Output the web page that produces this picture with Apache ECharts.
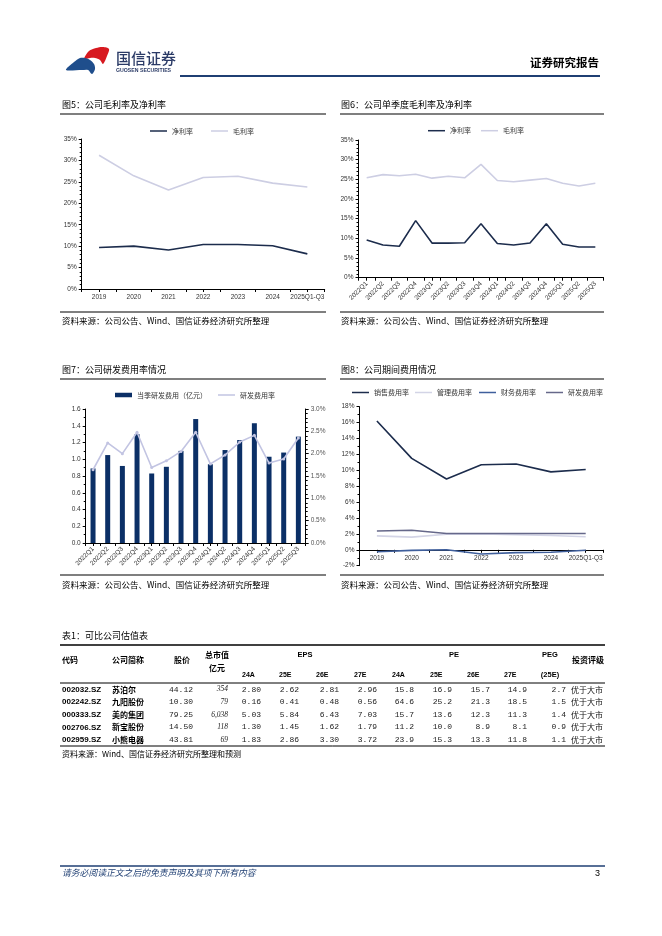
<!DOCTYPE html>
<html><head><meta charset="utf-8">
<script src="https://cdn.jsdelivr.net/npm/echarts@6/dist/echarts.min.js"></script>
<style>html,body{margin:0;padding:0;background:#fff}#c{width:662px;height:936px}</style>
</head><body><div id="c"></div>
<script>
// ---------- data ----------
const years = ['2019','2020','2021','2022','2023','2024','2025Q1-Q3'];
const netMarginYear = [9.7, 10.0, 9.1, 10.4, 10.4, 10.1, 8.2];
const grossMarginYear = [31.2, 26.4, 23.1, 26.0, 26.3, 24.7, 23.8];

const quarters = ['2022Q1','2022Q2','2022Q3','2022Q4','2023Q1','2023Q2','2023Q3','2023Q4','2024Q1','2024Q2','2024Q3','2024Q4','2025Q1','2025Q2','2025Q3'];
const netMarginQ = [9.6, 8.3, 8.0, 14.5, 8.8, 8.8, 8.9, 13.7, 8.7, 8.3, 8.8, 13.7, 8.5, 7.8, 7.8];
const grossMarginQ = [25.4, 26.2, 25.9, 26.3, 25.3, 25.8, 25.4, 28.8, 24.7, 24.4, 24.8, 25.2, 24.0, 23.3, 24.0];

const rdExpenseQ = [0.89, 1.05, 0.92, 1.30, 0.83, 0.91, 1.10, 1.48, 0.94, 1.11, 1.23, 1.43, 1.03, 1.08, 1.27];
const rdRateQ = [1.64, 2.24, 2.00, 2.48, 1.69, 1.84, 2.05, 2.48, 1.77, 1.97, 2.26, 2.41, 1.79, 1.88, 2.35];

const sellRate = [16.2, 11.5, 8.9, 10.7, 10.8, 9.8, 10.1];
const mgmtRate = [1.75, 1.6, 1.95, 2.0, 1.9, 1.8, 1.65];
const finRate = [-0.24, -0.07, 0.0, -0.53, -0.36, -0.3, -0.05];
const rdRateYear = [2.36, 2.45, 2.05, 2.05, 2.05, 2.05, 2.05];

const tblCodes = ['002032.SZ','002242.SZ','000333.SZ','002706.SZ','002959.SZ'];
const tblNames = ['苏泊尔','九阳股份','美的集团','新宝股份','小熊电器'];
const tblPrice = ['44.12','10.30','79.25','14.50','43.81'];
const tblMcap = ['354','79','6,038','118','69'];
const eps24A = [2.80, 0.16, 5.03, 1.30, 1.83];
const eps25E = [2.62, 0.41, 5.84, 1.45, 2.86];
const eps26E = [2.81, 0.48, 6.43, 1.62, 3.30];
const eps27E = [2.96, 0.56, 7.03, 1.79, 3.72];
const pe24A = [15.8, 64.6, 15.7, 11.2, 23.9];
const pe25E = [16.9, 25.2, 13.6, 10.0, 15.3];
const pe26E = [15.7, 21.3, 12.3, 8.9, 13.3];
const pe27E = [14.9, 18.5, 11.3, 8.1, 11.8];
const peg25E = [2.7, 1.5, 1.4, 0.9, 1.1];
const rating = ['优于大市','优于大市','优于大市','优于大市','优于大市'];
const epsHeads = ['24A','25E','26E','27E'];
const peHeads = ['24A','25E','26E','27E'];

// ---------- styles ----------
const CJK = "'Noto Sans CJK SC'";
const LAT = "'Liberation Sans'";
const NAVY = '#1c2c4c', LAV = '#cdcee3', BAR = '#0b2f66', RDLINE = '#c2c4e2';
const MGMT = '#d3d4e6', FIN = '#3f5f9c', RD8 = '#66688a';

function T(x, y, text, size, o) {
  o = o || {};
  const font = (o.italic ? 'italic ' : '') + (o.weight || 'normal') + ' ' + size + 'px ' + (o.family || CJK);
  return {type:'text', x:x, y:y, silent:true, z:10,
    style:{text:text, fill:o.color || '#000', font:font, align:o.align || 'left', verticalAlign:'middle',
      textAlign:o.align || 'left', textVerticalAlign:'middle'}};
}
function L(x1, y1, x2, y2, w, c) {
  return {type:'line', silent:true, z:10, shape:{x1:x1, y1:y1, x2:x2, y2:y2}, style:{stroke:c || '#000', lineWidth:w || 1}};
}

const axisLabelStyle = {fontSize:6.5, color:'#333', fontFamily:LAT};
function catAxis(grid, data, rotate, extra) {
  return Object.assign({type:'category', gridIndex:grid, data:data, boundaryGap:true, position:'bottom',
    axisLine:{show:true, onZero:false, lineStyle:{color:'#000', width:1}},
    axisTick:{show:true, length:3, lineStyle:{color:'#000'}},
    axisLabel:Object.assign({margin:5, rotate:rotate || 0, interval:0}, axisLabelStyle),
    splitLine:{show:false}}, extra || {});
}
function tickAxis(grid, data, extra) {
  return Object.assign({type:'category', gridIndex:grid, data:data, boundaryGap:true, position:'bottom',
    axisLine:{show:false, onZero:false}, axisLabel:{show:false},
    axisTick:{show:true, alignWithLabel:true, length:3, lineStyle:{color:'#000'}}, splitLine:{show:false}}, extra || {});
}
function valAxis(grid, min, max, interval, fmt, minorSplit, extra) {
  return Object.assign({type:'value', gridIndex:grid, min:min, max:max, interval:interval,
    axisLine:{show:true, lineStyle:{color:'#000', width:1}},
    axisTick:{show:true, length:3, lineStyle:{color:'#000'}},
    minorTick:{show:true, splitNumber:minorSplit, length:2, lineStyle:{color:'#000'}},
    axisLabel:Object.assign({margin:5, formatter:fmt}, axisLabelStyle),
    splitLine:{show:false}, minorSplitLine:{show:false}}, extra || {});
}
const pct0 = v => Math.round(v) + '%';

function lineSeries(name, xi, yi, data, color, extra) {
  return Object.assign({type:'line', name:name, xAxisIndex:xi, yAxisIndex:yi, data:data, symbol:'none',
    lineStyle:{color:color, width:1.6}, itemStyle:{color:color}, silent:true, animation:false, z:3}, extra || {});
}
function legendItem(name, left, top, color, h) {
  return {show:true, left:left, top:top, padding:0, itemGap:0, icon:'rect', itemWidth:17, itemHeight:h || 1.5,
    data:[{name:name, itemStyle:{color:color}}], selectedMode:false,
    textStyle:{fontSize:7, color:'#333', fontFamily:CJK, padding:[0,0,0,0]}};
}

// ---------- graphics (header, titles, table, footer) ----------
const G = [];
// logo
G.push({type:'polygon', silent:true, shape:{smooth:0.3, points:[[84,59],[89,51],[96,48],[103,47],[109,49],[107,56],[103,64],[100,60],[95,58],[90,58]]}, style:{fill:'#d71920'}});
G.push({type:'polygon', silent:true, shape:{smooth:0.3, points:[[66,70],[74,62],[80,58],[85,58],[90,60],[94,64],[95,69],[92,74],[88,70],[82,70]]}, style:{fill:'#1f4e8c'}});
G.push(T(116, 58, '国信证券', 15, {color:'#2a3a66', weight:'500'}));
G.push(T(116, 71, 'GUOSEN SECURITIES', 5.2, {family:LAT, weight:'bold', color:'#2a3a66'}));
G.push(T(599, 63, '证券研究报告', 11.5, {weight:'bold', align:'right'}));
G.push(L(180, 76, 600, 76, 2, '#1f3f73'));

const src = '资料来源：公司公告、Wind、国信证券经济研究所整理';
// panel titles & rules
[[62, 105, '图5：公司毛利率及净利率', 60, 326, 114, 312, 321],
 [341, 105, '图6：公司单季度毛利率及净利率', 340, 604, 114, 312, 321],
 [62, 370, '图7：公司研发费用率情况', 60, 326, 379, 575, 585],
 [341, 370, '图8：公司期间费用情况', 340, 604, 379, 575, 585]].forEach(p => {
  G.push(T(p[0], p[1], p[2], 9));
  G.push(L(p[3], p[5], p[4], p[5], 1.2));
  G.push(L(p[3], p[6], p[4], p[6], 1.2));
  G.push(T(p[0], p[7], src, 8.5));
});

// table
G.push(T(62, 636, '表1：可比公司估值表', 9));
G.push(L(60, 645, 605, 645, 1.5));
G.push(L(60, 683, 605, 683, 1));
G.push(L(60, 746, 605, 746, 1));
G.push(T(62, 754, '资料来源：Wind、国信证券经济研究所整理和预测', 8));
const HB = {weight:'bold'};
G.push(T(62, 660, '代码', 8, HB));
G.push(T(112, 660, '公司简称', 8, HB));
G.push(T(182, 660, '股价', 8, {weight:'bold', align:'center'}));
G.push(T(217, 654.5, '总市值', 8, {weight:'bold', align:'center'}));
G.push(T(217, 668, '亿元', 8, {weight:'bold', align:'center'}));
G.push(T(305, 654.5, 'EPS', 7.5, {weight:'bold', align:'center', family:LAT}));
G.push(T(454, 654.5, 'PE', 7.5, {weight:'bold', align:'center', family:LAT}));
G.push(T(550, 654.5, 'PEG', 7.5, {weight:'bold', align:'center', family:LAT}));
G.push(T(550, 675, '(25E)', 7.5, {weight:'bold', align:'center', family:LAT}));
G.push(T(588, 660, '投资评级', 8, {weight:'bold', align:'center'}));
const epsHeadX = [242, 279, 316, 354], peHeadX = [392, 430, 467, 504];
epsHeads.forEach((h, i) => G.push(T(epsHeadX[i], 675, h, 7, {weight:'bold', family:LAT})));
peHeads.forEach((h, i) => G.push(T(peHeadX[i], 675, h, 7, {weight:'bold', family:LAT})));
const MONO = "'Liberation Mono'";
const epsCols = [eps24A, eps25E, eps26E, eps27E], peCols = [pe24A, pe25E, pe26E, pe27E];
const epsRight = [261, 299, 339, 377], peRight = [414, 452, 490, 527];
tblCodes.forEach((code, r) => {
  const y = 689.5 + r * 12.6;
  G.push(T(62, y, code, 8, {weight:'bold', family:LAT}));
  G.push(T(112, y, tblNames[r], 8, {weight:'bold'}));
  G.push(T(193, y, tblPrice[r], 8, {align:'right', family:MONO, color:'#222'}));
  G.push(T(228, y, tblMcap[r], 7.5, {align:'right', family:"'Liberation Serif'", italic:true, color:'#222'}));
  epsCols.forEach((col, c) => G.push(T(epsRight[c], y, col[r].toFixed(2), 8, {align:'right', family:MONO, color:'#222'})));
  peCols.forEach((col, c) => G.push(T(peRight[c], y, col[r].toFixed(1), 8, {align:'right', family:MONO, color:'#222'})));
  G.push(T(566, y, peg25E[r].toFixed(1), 8, {align:'right', family:MONO, color:'#222'}));
  G.push(T(571, y, rating[r], 8, {color:'#111'}));
});

// footer
G.push(L(60, 866, 605, 866, 1.5, '#1f3f73'));
G.push(T(62, 873, '请务必阅读正文之后的免责声明及其项下所有内容', 8.8, {italic:true, color:'#1f3f73'}));
G.push(T(600, 874, '3', 9, {align:'right', family:LAT}));

// ---------- chart option ----------
// fig8: y range -2..18 over 159px -> zero line sits 15.9px above the grid bottom
const fig8ZeroOffset = -15.9;
const option = {
  animation:false,
  textStyle:{fontFamily:CJK},
  grid:[
    {left:81.7, top:139, width:243, height:150, outerBoundsMode:'none', containLabel:false},
    {left:358.5, top:140, width:245, height:137.7, outerBoundsMode:'none', containLabel:false},
    {left:85.7, top:409, width:220, height:134, outerBoundsMode:'none', containLabel:false},
    {left:359.5, top:406.7, width:243.6, height:159, outerBoundsMode:'none', containLabel:false}
  ],
  xAxis:[
    catAxis(0, years, 0), tickAxis(0, years),
    catAxis(1, quarters, 45), tickAxis(1, quarters),
    catAxis(2, quarters, 45), tickAxis(2, quarters),
    catAxis(3, years, 0, {offset:fig8ZeroOffset}), tickAxis(3, years, {offset:fig8ZeroOffset})
  ],
  yAxis:[
    valAxis(0, 0, 35, 5, pct0, 5),
    valAxis(1, 0, 35, 5, pct0, 5),
    valAxis(2, 0, 1.6, 0.2, v => v.toFixed(1), 2),
    valAxis(2, 0, 3.0, 0.5, v => v.toFixed(1) + '%', 5, {position:'right', axisLabel:Object.assign({margin:5, formatter:v => v.toFixed(1) + '%'}, axisLabelStyle, {color:'#555'})}),
    valAxis(3, -2, 18, 2, pct0, 2)
  ],
  legend:[
    legendItem('净利率', 150, 127.5, NAVY),
    legendItem('毛利率', 211, 127.5, LAV),
    legendItem('净利率', 428, 127.2, NAVY),
    legendItem('毛利率', 481, 127.2, LAV),
    legendItem('当季研发费用（亿元）', 115, 391.5, BAR, 4.5),
    legendItem('研发费用率', 218, 391.5, RDLINE),
    legendItem('销售费用率', 352, 389, NAVY),
    legendItem('管理费用率', 415, 389, MGMT),
    legendItem('财务费用率', 479, 389, FIN),
    legendItem('研发费用率', 546, 389, RD8)
  ],
  series:[
    lineSeries('净利率', 0, 0, netMarginYear, NAVY),
    lineSeries('毛利率', 0, 0, grossMarginYear, LAV),
    lineSeries('净利率', 2, 1, netMarginQ, NAVY),
    lineSeries('毛利率', 2, 1, grossMarginQ, LAV),
    {type:'bar', name:'当季研发费用（亿元）', xAxisIndex:4, yAxisIndex:2, data:rdExpenseQ, barWidth:5,
      itemStyle:{color:BAR}, silent:true, animation:false},
    lineSeries('研发费用率', 4, 3, rdRateQ, RDLINE, {symbol:'circle', symbolSize:3, showSymbol:true}),
    lineSeries('销售费用率', 6, 4, sellRate, NAVY),
    lineSeries('管理费用率', 6, 4, mgmtRate, MGMT),
    lineSeries('财务费用率', 6, 4, finRate, FIN),
    lineSeries('研发费用率', 6, 4, rdRateYear, RD8)
  ],
  graphic:{elements:G}
};
const chart = echarts.init(document.getElementById('c'), null, {renderer:'canvas'});
chart.setOption(option);
</script>
</body></html>
